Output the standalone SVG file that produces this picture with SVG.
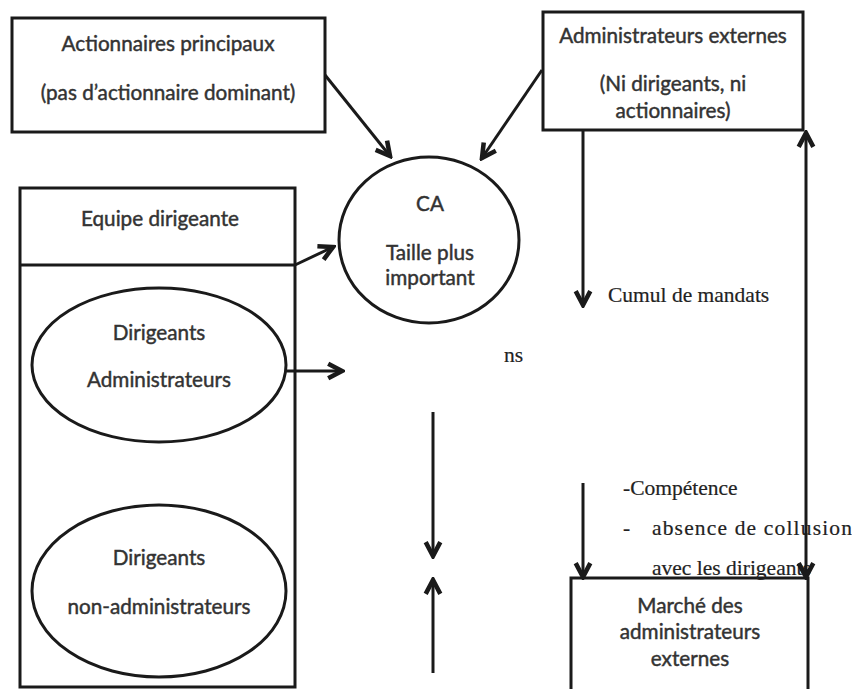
<svg xmlns="http://www.w3.org/2000/svg" width="852" height="689" viewBox="0 0 852 689">
<defs>
<style>
.box{fill:none;stroke:#1a1a1a;stroke-width:3}
.t{font-family:Lato,"Open Sans","Liberation Sans",sans-serif;font-size:20.7px;fill:#333;stroke:#333;stroke-width:0.45;text-anchor:middle;dominant-baseline:central}
.s{font-family:"Liberation Serif","DejaVu Serif",serif;font-size:21.5px;fill:#222;stroke:#222;stroke-width:0.2;dominant-baseline:central}
.c{fill:none;stroke:#1a1a1a;stroke-width:3;marker-end:url(#ah)}
</style>
<marker id="ah" viewBox="0 0 12 12" refX="10" refY="6" markerWidth="6.5" markerHeight="6.5" orient="auto" markerUnits="strokeWidth">
<path d="M1.5,1.5 L10,6 L1.5,10.5" fill="none" stroke="#1a1a1a" stroke-width="2.8" stroke-linejoin="miter"/>
</marker>
</defs>
<rect width="852" height="689" fill="#fff"/>
<g id="actionnaires">
<rect class="box" x="12" y="18" width="313" height="114"/>
<text class="t" x="168" y="43">Actionnaires principaux</text>
<text class="t" x="168" y="92">(pas d’actionnaire dominant)</text>
</g>
<g id="admin-externes">
<rect class="box" x="543" y="12" width="260" height="118"/>
<text class="t" x="673" y="35">Administrateurs externes</text>
<text class="t" x="673" y="83">(Ni dirigeants, ni</text>
<text class="t" x="673" y="110">actionnaires)</text>
</g>
<g id="ca">
<ellipse class="box" cx="429" cy="240" rx="90" ry="83"/>
<text class="t" x="430" y="203">CA</text>
<text class="t" x="430" y="252">Taille plus</text>
<text class="t" x="430" y="277">important</text>
</g>
<g id="equipe">
<rect class="box" x="20" y="188" width="275" height="499"/>
<line class="box" x1="20" y1="265" x2="295" y2="265"/>
<text class="t" x="160" y="218">Equipe dirigeante</text>
</g>
<g id="dir-admin">
<ellipse class="box" cx="159" cy="365" rx="127" ry="77"/>
<text class="t" x="159" y="332">Dirigeants</text>
<text class="t" x="159" y="379">Administrateurs</text>
</g>
<g id="dir-non-admin">
<ellipse class="box" cx="159" cy="591" rx="127" ry="86"/>
<text class="t" x="159" y="557">Dirigeants</text>
<text class="t" x="159" y="606">non-administrateurs</text>
</g>
<g id="marche">
<rect class="box" x="571" y="578" width="237" height="116"/>
<text class="t" x="690" y="605">Marché des</text>
<text class="t" x="690" y="631">administrateurs</text>
<text class="t" x="690" y="658">externes</text>
</g>
<g id="labels">
<text class="s" x="608" y="295">Cumul de mandats</text>
<text class="s" x="504" y="355">ns</text>
<text class="s" x="623" y="488">-Compétence</text>
<text class="s" x="623" y="528">-</text>
<text class="s" x="652" y="528" textLength="200" lengthAdjust="spacing">absence de collusion</text>
<text class="s" x="652" y="568">avec les dirigeants</text>
</g>
<g id="connectors">
<path class="c" d="M325,75 L390,156"/>
<path class="c" d="M542,70 L482,158"/>
<path class="c" d="M295,265 L333,247"/>
<path class="c" d="M287,371 L342,371"/>
<path class="c" d="M583,130 L583,305"/>
<path class="c" d="M433,412 L433,556"/>
<path class="c" d="M433,673 L433,580"/>
<path class="c" d="M583,483 L583,577"/>
<path class="c" d="M806,300 L806,133"/>
<path class="c" d="M806,300 L806,577"/>
</g>
</svg>
